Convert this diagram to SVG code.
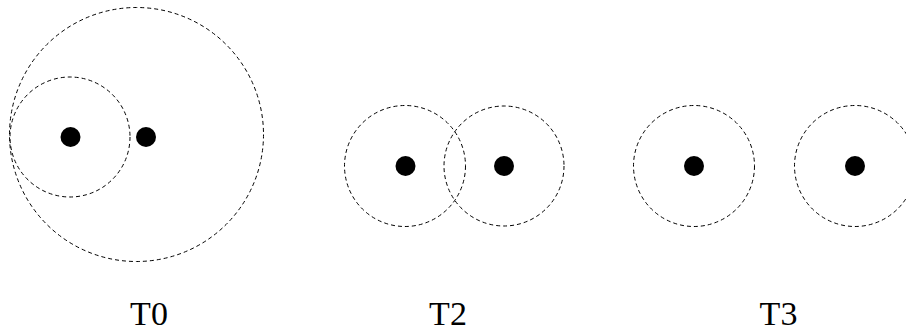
<svg xmlns="http://www.w3.org/2000/svg" width="906" height="332" viewBox="0 0 906 332">
<style>
.c{fill:none;stroke:#000;stroke-width:1;stroke-dasharray:4,3}
.d{fill:#000}
.t{font-family:"Liberation Serif","Times New Roman",serif;font-size:34px;fill:#000;text-anchor:middle}
</style>
<rect width="906" height="332" fill="#fff"/>
<g id="T0">
<circle class="c" cx="136.5" cy="134.5" r="127"/>
<circle class="c" cx="70" cy="137" r="60"/>
<circle class="d" cx="70.5" cy="137" r="10"/>
<circle class="d" cx="146" cy="137" r="10"/>
<text class="t" x="149" y="325">T0</text>
</g>
<g id="T2">
<circle class="c" cx="405" cy="166" r="60.5"/>
<circle class="c" cx="504" cy="166" r="60"/>
<circle class="d" cx="405.5" cy="166" r="10"/>
<circle class="d" cx="504" cy="166" r="10"/>
<text class="t" x="448" y="325">T2</text>
</g>
<g id="T3">
<circle class="c" cx="694" cy="166" r="60.5"/>
<circle class="c" cx="855" cy="166" r="60.5"/>
<circle class="d" cx="694" cy="166" r="10"/>
<circle class="d" cx="855" cy="166" r="10"/>
<text class="t" x="778.5" y="325">T3</text>
</g>
</svg>
